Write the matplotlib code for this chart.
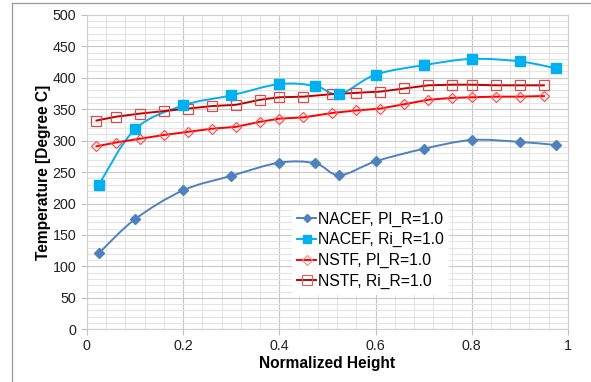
import matplotlib
matplotlib.use('Agg')
import matplotlib.pyplot as plt
import numpy as np
from matplotlib.path import Path
from matplotlib.patches import PathPatch
from matplotlib.lines import Line2D
from matplotlib.ticker import MultipleLocator

plt.rcParams['font.family'] = ['Liberation Sans', 'DejaVu Sans']

# NACEF data (smoothed lines in the original)
nacef_x = [0.025, 0.1, 0.2, 0.3, 0.4, 0.475, 0.525, 0.6, 0.7, 0.8, 0.9, 0.975]
nacef_pl = [121, 175, 221, 244, 265, 264, 245, 267, 287, 301, 298, 293]
nacef_ri = [230, 318, 356, 372, 390, 387, 374, 405, 420, 430, 426, 415]

# NSTF data
nstf_x = [0.02, 0.06, 0.11, 0.16, 0.21, 0.26, 0.31, 0.36, 0.40, 0.45,
          0.51, 0.56, 0.61, 0.66, 0.71, 0.76, 0.80, 0.85, 0.90, 0.95]
nstf_pl = [291, 297, 303, 309, 314, 319, 322, 330, 335, 337,
           344, 348, 351, 358, 365, 368, 369, 370, 370, 371]
nstf_ri = [332, 338, 343, 347, 351, 355, 357, 365, 369, 370,
           374, 376, 378, 383, 388, 389, 389, 388, 388, 388]

labels = ['NACEF, Pl_R=1.0', 'NACEF, Ri_R=1.0',
          'NSTF, Pl_R=1.0', 'NSTF, Ri_R=1.0']
xticks = [0, 0.2, 0.4, 0.6, 0.8, 1]
xticklabels = ['0', '0.2', '0.4', '0.6', '0.8', '1']


def smooth_path(x, y):
    """Catmull-Rom style bezier path through the points (like Excel smoothing)."""
    p = np.column_stack([x, y]).astype(float)
    n = len(p)
    verts = [p[0]]
    codes = [Path.MOVETO]
    for i in range(n - 1):
        p0 = p[i - 1] if i > 0 else p[i]
        p3 = p[i + 2] if i + 2 < n else p[i + 1]
        c1 = p[i] + (p[i + 1] - p0) / 6.0
        c2 = p[i + 1] - (p3 - p[i]) / 6.0
        verts += [c1, c2, p[i + 1]]
        codes += [Path.CURVE4] * 3
    return Path(verts, codes)


fig = plt.figure(figsize=(5.91, 3.82), dpi=100)
ax = fig.add_axes([0.147, 0.138, 0.814, 0.823])

c_pl = '#4F81BD'
c_ri = '#00B0F0'

ax.add_patch(PathPatch(smooth_path(nacef_x, nacef_pl), fill=False,
                       edgecolor=c_pl, lw=1.4, zorder=3))
ax.plot(nacef_x, nacef_pl, ls='none', marker='D', ms=5, color=c_pl, zorder=4)
ax.add_patch(PathPatch(smooth_path(nacef_x, nacef_ri), fill=False,
                       edgecolor=c_ri, lw=1.4, zorder=3))
ax.plot(nacef_x, nacef_ri, ls='none', marker='s', ms=6.5, color=c_ri, zorder=4)

ax.plot(nstf_x, nstf_pl, color='#FF0000', lw=1.4, marker='D', ms=5,
        mfc='none', mec='#FF5050', mew=0.9, zorder=3)
ax.plot(nstf_x, nstf_ri, color='#C00000', lw=1.4, marker='s', ms=7,
        mfc='none', mec='#D05050', mew=0.9, zorder=3)

ax.set_xlim(0, 1)
ax.set_ylim(0, 500)
ax.set_xticks(xticks, xticklabels)
ax.xaxis.set_minor_locator(MultipleLocator(0.04))
ax.yaxis.set_major_locator(MultipleLocator(50))
ax.yaxis.set_minor_locator(MultipleLocator(10))
ax.grid(which='major', color='#C8C8C8', lw=0.8)
ax.grid(which='minor', color='#E4E4E4', lw=0.8)
ax.set_axisbelow(True)
ax.tick_params(which='major', length=4, color='#BFBFBF', labelsize=10.3,
               labelcolor='#222222')
ax.tick_params(axis='x', pad=3)
ax.tick_params(which='minor', length=0)
for s in ax.spines.values():
    s.set_color('#D0D0D0')
    s.set_linewidth(0.8)

ax.set_xlabel('Normalized Height', fontsize=11.2, fontweight='bold',
              labelpad=2)
ax.set_ylabel('Temperature [Degree C]', fontsize=11.2, fontweight='bold',
              labelpad=1)

handles = [
    Line2D([], [], color=c_pl, lw=1.4, marker='D', ms=4),
    Line2D([], [], color=c_ri, lw=1.4, marker='s', ms=6),
    Line2D([], [], color='#FF0000', lw=1.4, marker='D', ms=5, mfc='none',
           mec='#FF8080', mew=0.8),
    Line2D([], [], color='#C00000', lw=1.4, marker='s', ms=7, mfc='none',
           mec='#E06060', mew=0.8),
]
leg = ax.legend(handles, labels, loc='upper left',
                bbox_to_anchor=(0.426, 0.392), fontsize=11.3, frameon=True,
                fancybox=False, framealpha=1, edgecolor='none',
                handlelength=1.2, handletextpad=0.1, labelspacing=0.36,
                borderpad=0.35, borderaxespad=0)
leg.set_zorder(5)

# partial outer frame of the chart area
fig.add_artist(Line2D([12 / 591, 12 / 591], [0, 1 - 3 / 382],
                      transform=fig.transFigure, color='#999999', lw=0.9))
fig.add_artist(Line2D([12 / 591, 1], [1 - 3 / 382, 1 - 3 / 382],
                      transform=fig.transFigure, color='#999999', lw=0.9))

fig.savefig('out.png', dpi=100)
